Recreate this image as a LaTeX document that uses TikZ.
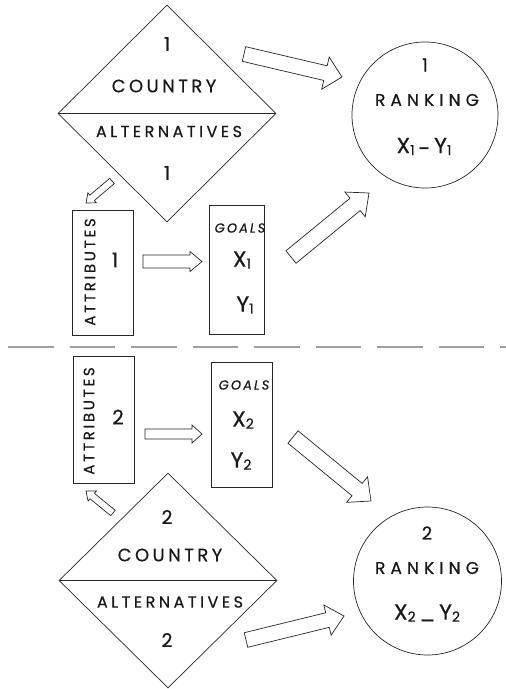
\documentclass[tikz,border=0pt]{standalone}
\usepackage{fontspec}
\setmainfont{Poppins}[FakeBold=0.6]
\usetikzlibrary{shapes.geometric,calc}
\newcommand\lab[3]{{\fontsize{#1}{#1}\selectfont\addfontfeature{LetterSpace=#2}#3}}
\newcommand\sbs[1]{\raisebox{-2pt}{\fontsize{14}{14}\selectfont #1}}
\newcommand\blockarrow[5]{%
  \coordinate (hb) at ($(#2)!#5!(#1)$);
  \draw[blk] ($(#1)!#3!90:(#2)$) -- ($(hb)!#3!90:(#2)$) -- ($(hb)!#4!90:(#2)$) -- (#2)
     -- ($(hb)!#4!-90:(#2)$) -- ($(hb)!#3!-90:(#2)$) -- ($(#1)!#3!-90:(#2)$) -- cycle;}
\tikzset{
  shp/.style={draw=black!85, line width=0.7pt, inner sep=0pt},
  txt/.style={inner sep=0pt, text=black!90},
  blk/.style={draw=black!85, line width=0.7pt, fill=white, line join=miter},
  sep/.style={draw=gray!75, line width=1.8pt, dash pattern=on 45.5pt off 16pt},
}
\begin{document}
\begin{tikzpicture}[x=1pt,y=-1pt]
\useasboundingbox (0,0) rectangle (506,689);
% shapes
\node[shp, diamond, minimum width=218pt, minimum height=217pt] (d1) at (167,113.5) {};
\node[shp, diamond, minimum width=218pt, minimum height=215pt] (d2) at (168,580.5) {};
\draw[shp] (d1.west) -- (d1.east);
\draw[shp] (d2.west) -- (d2.east);
\node[shp, circle, minimum size=146pt] (c1) at (425,115) {};
\node[shp, circle, minimum size=148pt] (c2) at (427.5,581) {};
\node[shp, minimum width=61pt, minimum height=125pt] (at1) at (102.5,272.5) {};
\node[shp, minimum width=55pt, minimum height=129pt] (g1) at (236.5,269.5) {};
\node[shp, minimum width=61pt, minimum height=127pt] (at2) at (103.5,419.5) {};
\node[shp, minimum width=61pt, minimum height=125pt] (g2) at (241.5,424.5) {};
% separator
\coordinate (sl) at (8,347);
\coordinate (sr) at (506,347);
\draw[sep] (sl) -- (sr);
% texts diamond 1
\node[txt] (d1n) at (167,44) {\lab{19}{0}{1}};
\node[txt] (d1c) at (164,86) {\lab{18}{19}{COUNTRY}};
\node[txt] (d1a) at (169,131.5) {\lab{16}{22}{ALTERNATIVES}};
\node[txt] (d1m) at (167,173) {\lab{19}{0}{1}};
% texts diamond 2
\node[txt] (d2n) at (167,517) {\lab{19}{0}{2}};
\node[txt] (d2c) at (170,555) {\lab{18}{19}{COUNTRY}};
\node[txt] (d2a) at (170,602) {\lab{16}{22}{ALTERNATIVES}};
\node[txt] (d2m) at (167,640) {\lab{19}{0}{2}};
% circle 1
\node[txt] (c1n) at (425,65) {\lab{18}{0}{1}};
\node[txt] (c1r) at (427,100) {\lab{17}{30}{RANKING}};
\node[txt] (c1x) at (424,147) {\lab{22}{0}{X\sbs{1}\,\raisebox{-3pt}{-}\,Y\sbs{1}}};
% circle 2
\node[txt] (c2n) at (427,533) {\lab{18}{0}{2}};
\node[txt] (c2r) at (427,568) {\lab{17}{30}{RANKING}};
\node[txt] (c2x) at (427,613) {\lab{22}{0}{X\sbs{2}\,\raisebox{1pt}{\_}\,Y\sbs{2}}};
% attributes / goals 1
\node[txt, rotate=90] (at1t) at (90,272) {\lab{15}{18}{ATTRIBUTES}};
\node[txt] (at1n) at (115,260) {\lab{20}{0}{1}};
\node[txt] (g1t) at (240,228) {\lab{13}{16}{\itshape GOALS}};
\node[txt] (g1x) at (242,260) {\lab{22}{0}{X\sbs{1}}};
\node[txt] (g1y) at (245,305) {\lab{22}{0}{Y\sbs{1}}};
% attributes / goals 2
\node[txt, rotate=90] (at2t) at (89,421) {\lab{15}{18}{ATTRIBUTES}};
\node[txt] (at2n) at (118,417) {\lab{20}{0}{2}};
\node[txt] (g2t) at (244,385) {\lab{13}{16}{\itshape GOALS}};
\node[txt] (g2x) at (243,420) {\lab{22}{0}{X\sbs{2}}};
\node[txt] (g2y) at (241,461) {\lab{22}{0}{Y\sbs{2}}};
% arrow end points
\coordinate (a1s) at (244,54);   \coordinate (a1e) at (342,77);
\coordinate (a2s) at (291,257);  \coordinate (a2e) at (369,193);
\coordinate (a3s) at (293,437);  \coordinate (a3e) at (371,501);
\coordinate (a4s) at (246,640);  \coordinate (a4e) at (344,616);
\coordinate (a5s) at (112,181);  \coordinate (a5e) at (86,203);
\coordinate (a6s) at (113,513);  \coordinate (a6e) at (86,491);
\coordinate (a7s) at (143,261.5); \coordinate (a7e) at (202,261.5);
\coordinate (a8s) at (145,434);  \coordinate (a8e) at (202,434);
\blockarrow{a1s}{a1e}{7.5pt}{16.5pt}{17pt}
\blockarrow{a2s}{a2e}{8pt}{16pt}{18pt}
\blockarrow{a3s}{a3e}{8pt}{16.5pt}{18pt}
\blockarrow{a4s}{a4e}{7.5pt}{15.5pt}{17pt}
\blockarrow{a5s}{a5e}{3.5pt}{6.5pt}{8pt}
\blockarrow{a6s}{a6e}{3.5pt}{6.5pt}{8pt}
\blockarrow{a7s}{a7e}{6.5pt}{10pt}{12pt}
\blockarrow{a8s}{a8e}{5pt}{9pt}{10pt}
\end{tikzpicture}
\end{document}
